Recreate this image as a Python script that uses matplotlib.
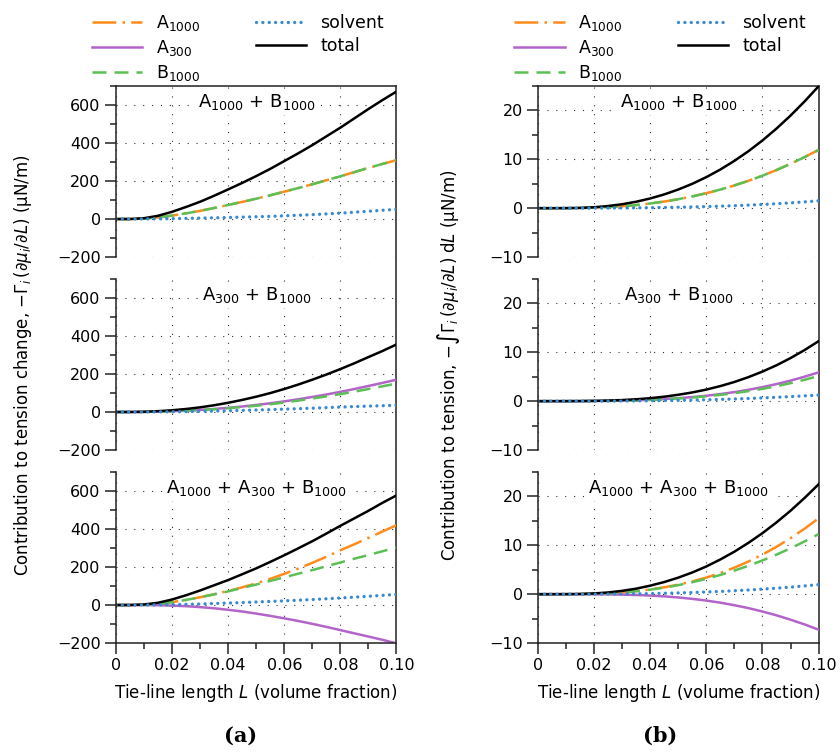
import matplotlib
matplotlib.use("Agg")
import matplotlib.pyplot as plt
from matplotlib.lines import Line2D
from matplotlib.ticker import FixedLocator, FixedFormatter, MultipleLocator

plt.rcParams["font.family"] = ["DejaVu Sans"]
plt.rcParams["mathtext.fontset"] = "dejavusans"

# tie-line length L (volume fraction)
L = [0.000, 0.005, 0.010, 0.015, 0.020, 0.025, 0.030, 0.035, 0.040, 0.045, 0.050,
     0.055, 0.060, 0.065, 0.070, 0.075, 0.080, 0.085, 0.090, 0.095, 0.100]
x_ticks = [0.0, 0.02, 0.04, 0.06, 0.08, 0.10]
x_tick_labels = ["0", "0.02", "0.04", "0.06", "0.08", "0.10"]

series_keys = ["A1000", "A300", "B1000", "solvent", "total"]
series_labels = [r"A$_{1000}$", r"A$_{300}$", r"B$_{1000}$", "solvent", "total"]
panel_titles = [r"A$_{1000}$ + B$_{1000}$", r"A$_{300}$ + B$_{1000}$",
                r"A$_{1000}$ + A$_{300}$ + B$_{1000}$"]

# (a) tension change, -Gamma_i dmu_i/dL  (uN/m)
rate1_A1000 = [0, 0, 2, 8, 18, 30, 43, 58, 74, 90, 107, 125, 144, 163, 183, 204, 225, 247, 269, 290, 310]
rate1_B1000 = [0, 0, 2, 8, 18, 30, 43, 58, 74, 90, 107, 125, 144, 163, 183, 204, 225, 247, 269, 290, 310]
rate1_solvent = [0, 0, 0.3, 1, 2, 3.5, 5, 6.5, 8, 10, 12, 14, 17, 20, 23, 27, 31, 36, 41, 46, 51]
rate1_total = [0, 0, 4.3, 17, 38, 63.5, 91, 122.5, 156, 190, 226, 264, 305, 346, 389, 435, 481, 530, 579, 626, 671]

rate2_A300 = [0, 0, 0.5, 2, 4, 7, 11, 16, 22, 29, 37, 46, 56, 67, 79, 92, 106, 121, 137, 153, 170]
rate2_B1000 = [0, 0, 0.5, 1.8, 3.8, 6.5, 10, 14.5, 20, 26, 33, 41, 50, 60, 71, 82, 94, 107, 121, 135, 150]
rate2_solvent = [0, 0, 0.1, 0.5, 1.3, 2.3, 3.5, 5, 6.5, 8.5, 10.5, 12.5, 15, 17.5, 20, 23, 26, 28.5, 31, 33, 35.5]
rate2_total = [0, 0, 1.1, 4.3, 9.1, 15.8, 24.5, 35.5, 48.5, 63.5, 80.5, 99.5, 121, 144.5, 170, 197, 226, 256.5, 289, 321, 355.5]

rate3_A1000 = [0, 0, 1.5, 6, 15, 27, 41, 57, 74, 93, 114, 138, 164, 192, 222, 254, 288, 320, 353, 387, 420]
rate3_A300 = [0, 0, -0.3, -1, -3, -6, -11, -17, -25, -34, -45, -57, -70, -84, -99, -115, -132, -149, -166, -183, -202]
rate3_B1000 = [0, 0, 1.5, 6, 15, 27, 41, 56, 72, 90, 108, 127, 146, 165, 184, 204, 224, 244, 263, 283, 303]
rate3_solvent = [0, 0, 0.2, 0.8, 2, 3.5, 5.5, 8, 10.5, 13, 16, 19, 22, 25.5, 29, 33, 37, 41.5, 46, 51, 56]
rate3_total = [0, 0, 2.9, 11.8, 29, 51.5, 76.5, 104, 131.5, 162, 193, 227, 262, 298.5, 336, 376, 417, 456.5, 496, 538, 577]

# (b) tension, -int Gamma_i (dmu_i/dL) dL  (uN/m)
int1_A1000 = [0, 0, 0.005, 0.03, 0.09, 0.21, 0.39, 0.64, 0.96, 1.36, 1.84, 2.41, 3.07, 3.81, 4.66, 5.6, 6.65, 7.81, 9.07, 10.45, 11.92]
int1_B1000 = [0, 0, 0.005, 0.03, 0.09, 0.21, 0.39, 0.64, 0.96, 1.36, 1.84, 2.41, 3.07, 3.81, 4.66, 5.6, 6.65, 7.81, 9.07, 10.45, 11.92]
int1_solvent = [0, 0, 0.001, 0.004, 0.011, 0.023, 0.042, 0.069, 0.102, 0.144, 0.194, 0.254, 0.326, 0.41, 0.509, 0.624, 0.757, 0.912, 1.088, 1.289, 1.51]
int1_total = [0, 0, 0.01, 0.06, 0.19, 0.44, 0.81, 1.32, 1.99, 2.82, 3.82, 4.99, 6.36, 7.92, 9.69, 11.66, 13.86, 16.29, 18.95, 21.84, 24.95]

int2_A300 = [0, 0, 0.001, 0.008, 0.025, 0.055, 0.10, 0.18, 0.28, 0.42, 0.61, 0.83, 1.11, 1.45, 1.85, 2.32, 2.87, 3.49, 4.2, 5.0, 5.89]
int2_B1000 = [0, 0, 0.001, 0.008, 0.023, 0.05, 0.095, 0.16, 0.25, 0.38, 0.54, 0.74, 0.98, 1.28, 1.63, 2.05, 2.52, 3.06, 3.68, 4.37, 5.14]
int2_solvent = [0, 0, 0, 0.002, 0.006, 0.014, 0.029, 0.048, 0.076, 0.111, 0.157, 0.211, 0.276, 0.353, 0.443, 0.545, 0.661, 0.79, 0.932, 1.084, 1.246]
int2_total = [0, 0, 0.002, 0.018, 0.054, 0.119, 0.224, 0.388, 0.606, 0.911, 1.307, 1.781, 2.366, 3.083, 3.923, 4.915, 6.051, 7.34, 8.812, 10.454, 12.276]

int3_A1000 = [0, 0, 0.004, 0.024, 0.08, 0.19, 0.37, 0.62, 0.97, 1.41, 1.95, 2.61, 3.4, 4.34, 5.43, 6.68, 8.1, 9.69, 11.46, 13.4, 15.52]
int3_A300 = [0, 0, -0.001, -0.004, -0.016, -0.04, -0.09, -0.17, -0.28, -0.45, -0.67, -0.96, -1.31, -1.74, -2.26, -2.85, -3.55, -4.33, -5.22, -6.19, -7.27]
int3_B1000 = [0, 0, 0.004, 0.023, 0.077, 0.18, 0.36, 0.6, 0.93, 1.34, 1.85, 2.45, 3.14, 3.94, 4.83, 5.82, 6.91, 8.1, 9.39, 10.79, 12.28]
int3_solvent = [0, 0, 0, 0.003, 0.01, 0.024, 0.046, 0.08, 0.126, 0.185, 0.258, 0.345, 0.448, 0.566, 0.702, 0.857, 1.032, 1.229, 1.447, 1.69, 1.957]
int3_total = [0, 0, 0.007, 0.046, 0.151, 0.354, 0.686, 1.13, 1.746, 2.485, 3.388, 4.445, 5.678, 7.106, 8.702, 10.507, 12.492, 14.689, 17.077, 19.69, 22.487]

columns = [
    dict(
        panels=[
            {"A1000": rate1_A1000, "B1000": rate1_B1000, "total": rate1_total, "solvent": rate1_solvent},
            {"A300": rate2_A300, "B1000": rate2_B1000, "total": rate2_total, "solvent": rate2_solvent},
            {"A1000": rate3_A1000, "A300": rate3_A300, "B1000": rate3_B1000, "total": rate3_total, "solvent": rate3_solvent},
        ],
        ylim=(-200, 700), major=200, minor=100,
        ylabel=r"Contribution to tension change, $-\mathit{\Gamma}_i\,(\partial\mu_i/\partial L)$ (μN/m)",
        caption="(a)",
    ),
    dict(
        panels=[
            {"A1000": int1_A1000, "B1000": int1_B1000, "total": int1_total, "solvent": int1_solvent},
            {"A300": int2_A300, "B1000": int2_B1000, "total": int2_total, "solvent": int2_solvent},
            {"A1000": int3_A1000, "A300": int3_A300, "B1000": int3_B1000, "total": int3_total, "solvent": int3_solvent},
        ],
        ylim=(-10, 25), major=10, minor=5,
        ylabel=r"Contribution to tension, $-\int\mathit{\Gamma}_i\,(\partial\mu_i/\partial L)\;\mathrm{d}L$ (μN/m)",
        caption="(b)",
    ),
]

STYLE = {
    "A1000": dict(color="#ff8c1a", linestyle=(0, (9.5, 2.5, 1, 2.5)), linewidth=1.8),
    "A300": dict(color="#b264c8", linestyle="-", linewidth=1.8),
    "B1000": dict(color="#5cbf55", linestyle=(0, (5.6, 3.2)), linewidth=1.8),
    "solvent": dict(color="#3a8ad0", linestyle=(0, (0.01, 1.9)), linewidth=2.4, dash_capstyle="round"),
    "total": dict(color="black", linestyle="-", linewidth=1.8),
}
DRAW_ORDER = ["A1000", "A300", "B1000", "total", "solvent"]

SPINE = "#222222"
fig = plt.figure(figsize=(8.4, 7.52), dpi=100)

col_lefts = [0.138, 0.6405]
col_width = 0.334
panel_h = 0.2274
panel_bottoms = [0.6582, 0.4016, 0.1449]
caption_x = [0.286, 0.786]
ylabel_x = [0.027, 0.534]

for c, col in enumerate(columns):
    left = col_lefts[c]

    # outer frame shared by the three stacked panels
    frame = fig.add_axes([left, panel_bottoms[-1], col_width, panel_bottoms[0] + panel_h - panel_bottoms[-1]])
    frame.patch.set_visible(False)
    frame.set_xticks([])
    frame.set_yticks([])
    for side in ("left", "bottom"):
        frame.spines[side].set_visible(False)
    for side in ("top", "right"):
        frame.spines[side].set_color(SPINE)
        frame.spines[side].set_linewidth(1.1)

    for p, data in enumerate(col["panels"]):
        ax = fig.add_axes([left, panel_bottoms[p], col_width, panel_h])
        ax.patch.set_visible(False)
        ax.set_xlim(0, 0.1)
        ax.set_ylim(*col["ylim"])

        for key in DRAW_ORDER:
            if key in data:
                ax.plot(L, data[key], **STYLE[key])

        for side in ("top", "right", "bottom"):
            ax.spines[side].set_visible(False)
        ax.spines["left"].set_color(SPINE)
        ax.spines["left"].set_linewidth(1.1)

        ax.xaxis.set_major_locator(FixedLocator(x_ticks))
        ax.xaxis.set_major_formatter(FixedFormatter(x_tick_labels))
        ax.xaxis.set_minor_locator(MultipleLocator(0.01))
        ax.yaxis.set_major_locator(MultipleLocator(col["major"]))
        ax.yaxis.set_minor_locator(MultipleLocator(col["minor"]))
        ax.tick_params(which="both", direction="out", color=SPINE, width=1.1, labelsize=11.5, pad=3)
        ax.tick_params(which="major", length=8)
        ax.tick_params(which="minor", length=4.5)

        if p == len(col["panels"]) - 1:
            ax.spines["bottom"].set_visible(True)
            ax.spines["bottom"].set_color(SPINE)
            ax.spines["bottom"].set_linewidth(1.1)
            ax.set_xlabel(r"Tie-line length $L$ (volume fraction)", fontsize=12, labelpad=6)
        else:
            ax.tick_params(axis="x", which="both", bottom=False, labelbottom=False)

        ax.grid(True, which="major", linestyle=(0, (1, 7)), linewidth=0.8, color="#333333")

        ax.text(0.5, 0.905, panel_titles[p], transform=ax.transAxes, ha="center", va="center",
                fontsize=13, zorder=3, bbox=dict(facecolor="white", edgecolor="none", pad=2))

        if p == 0:
            handles = [Line2D([], [], **STYLE[k]) for k in series_keys]
            ax.legend(handles, series_labels, ncol=2, loc="lower left", bbox_to_anchor=(-0.085, 1.02),
                      frameon=False, borderaxespad=0, borderpad=0, fontsize=12.5, handlelength=2.9,
                      handletextpad=0.8, columnspacing=3.2, labelspacing=0.28)

    fig.text(ylabel_x[c], 0.515, col["ylabel"], rotation=90, ha="center", va="center", fontsize=12)
    fig.text(caption_x[c], 0.021, col["caption"], ha="center", va="center", fontsize=15,
             fontweight="bold", family="DejaVu Serif")

fig.savefig("out.png", dpi=100)
